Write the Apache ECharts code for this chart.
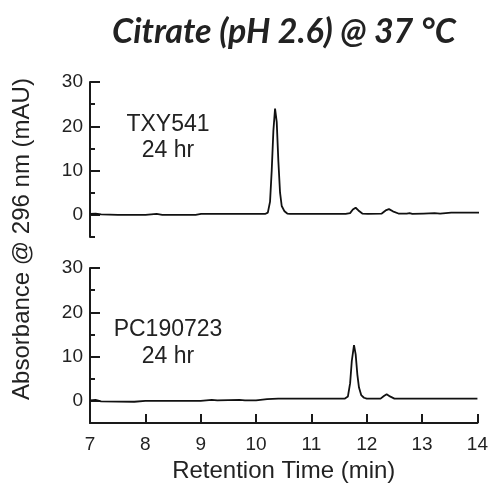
<!DOCTYPE html>
<html>
<head>
<meta charset="utf-8">
<script src="https://cdn.jsdelivr.net/npm/echarts@6/dist/echarts.min.js"></script>
<style>html,body{margin:0;padding:0;background:#fff}#c{width:491px;height:484px}</style>
</head>
<body>
<div id="c"></div>
<script>
// Retention time (min), absorbance (mAU)
var topTime = [7.0,7.1,7.2,7.5,8.0,8.2,8.3,8.9,9.0,9.5,10.0,10.15,10.2,10.24,10.27,10.3,10.33,10.36,10.39,10.42,10.45,10.5,10.55,10.6,11.0,11.6,11.68,11.73,11.78,11.83,11.9,12.0,12.25,12.32,12.38,12.45,12.55,12.7,12.75,12.8,13.0,13.2,13.3,13.5,14.0];
var topAbs  = [0.2,0.3,0.1,0.0,0.0,0.2,0.0,0.0,0.2,0.2,0.2,0.2,0.5,3,10,19,24.0,21,12,5,2,0.8,0.3,0.2,0.2,0.2,0.4,1.2,1.6,1.0,0.3,0.2,0.3,1.0,1.3,0.8,0.3,0.3,0.4,0.2,0.3,0.4,0.3,0.5,0.5];
var botTime = [7.0,7.1,7.2,7.8,8.0,9.0,9.2,9.3,9.7,9.8,10.0,10.2,10.4,11.0,11.6,11.66,11.7,11.73,11.77,11.8,11.83,11.86,11.9,11.95,12.0,12.25,12.31,12.36,12.42,12.5,14.0];
var botAbs  = [0.1,0.2,-0.1,-0.2,0.0,0.0,0.2,0.1,0.2,0.1,0.1,0.4,0.5,0.5,0.5,1.0,4,9,12.6,10.5,6,3,1.3,0.7,0.5,0.5,1.1,1.5,1.0,0.5,0.5];
var yMajorTicks = [0,10,20,30];
var xTicks = [7,8,9,10,11,12,13,14];
var titleText = 'Citrate (pH 2.6) @ 37 °C';
var yTitle = 'Absorbance @ 296 nm (mAU)';
var xTitle = 'Retention Time (min)';
var topLabel = ['TXY541','24 hr'];
var botLabel = ['PC190723','24 hr'];

function pairs(t, v){ return t.map(function(x,i){ return [x, v[i]]; }); }

var axisColor = '#1a1a1a';
var txtColor = '#222';
var tickFont = {fontFamily:'Liberation Sans, Arial, sans-serif', fontSize:19, color:txtColor};

function majorY(grid){
  return {gridIndex:grid, type:'value', min:-5, max:30, interval:5,
    axisLine:{show:true, lineStyle:{color:axisColor, width:2}},
    axisTick:{show:true, inside:true, length:10, customValues:yMajorTicks, lineStyle:{color:axisColor, width:2}},
    axisLabel:Object.assign({show:true, margin:7, customValues:yMajorTicks}, tickFont),
    splitLine:{show:false}};
}
function minorY(grid){
  return {gridIndex:grid, type:'value', min:-5, max:30, interval:5, position:'left',
    axisLine:{show:false}, axisLabel:{show:false}, splitLine:{show:false},
    axisTick:{show:true, inside:true, length:5, lineStyle:{color:axisColor, width:2}}};
}

var chart = echarts.init(document.getElementById('c'), null, {renderer:'canvas'});
chart.setOption({
  animation:false,
  backgroundColor:'#fff',
  title:{text:titleText, left:279, top:10, textAlign:'center',
    textStyle:{fontFamily:'Lato, Open Sans, sans-serif', fontStyle:'italic', fontWeight:'bold', fontSize:34, color:txtColor}},
  grid:[
    {left:90, width:389, top:82, height:155},
    {left:90, width:389, top:268, height:157}
  ],
  xAxis:[
    {gridIndex:0, type:'value', min:7, max:14, interval:1, show:false},
    {gridIndex:1, type:'value', min:7, max:14, interval:1,
      axisLine:{show:true, onZero:false, lineStyle:{color:axisColor, width:2}},
      axisTick:{show:true, inside:true, length:9, lineStyle:{color:axisColor, width:2}},
      axisLabel:Object.assign({show:true, margin:12}, tickFont),
      splitLine:{show:false},
      name:xTitle, nameLocation:'middle', nameGap:36,
      nameTextStyle:{fontFamily:'Liberation Sans, Arial, sans-serif', fontSize:24, color:txtColor}}
  ],
  yAxis:[majorY(0), minorY(0), majorY(1), minorY(1)],
  series:[
    {type:'line', xAxisIndex:0, yAxisIndex:0, data:pairs(topTime, topAbs), showSymbol:false, symbol:'none',
      lineStyle:{color:'#111', width:1.8}},
    {type:'line', xAxisIndex:1, yAxisIndex:2, data:pairs(botTime, botAbs), showSymbol:false, symbol:'none',
      lineStyle:{color:'#111', width:1.8}}
  ],
  graphic:[
    {type:'text', x:22, y:239, rotation:Math.PI/2,
      style:{text:yTitle, textAlign:'center', textVerticalAlign:'middle', fill:txtColor,
        font:'24px "Liberation Sans", Arial, sans-serif'}},
    {type:'text', x:168, y:125, style:{text:topLabel[0], textAlign:'center', textVerticalAlign:'middle', fill:txtColor, font:'23px "Liberation Sans", Arial, sans-serif'}},
    {type:'text', x:168, y:151, style:{text:topLabel[1], textAlign:'center', textVerticalAlign:'middle', fill:txtColor, font:'23px "Liberation Sans", Arial, sans-serif'}},
    {type:'text', x:168, y:330, style:{text:botLabel[0], textAlign:'center', textVerticalAlign:'middle', fill:txtColor, font:'23px "Liberation Sans", Arial, sans-serif'}},
    {type:'text', x:168, y:357, style:{text:botLabel[1], textAlign:'center', textVerticalAlign:'middle', fill:txtColor, font:'23px "Liberation Sans", Arial, sans-serif'}}
  ]
});
</script>
</body>
</html>
